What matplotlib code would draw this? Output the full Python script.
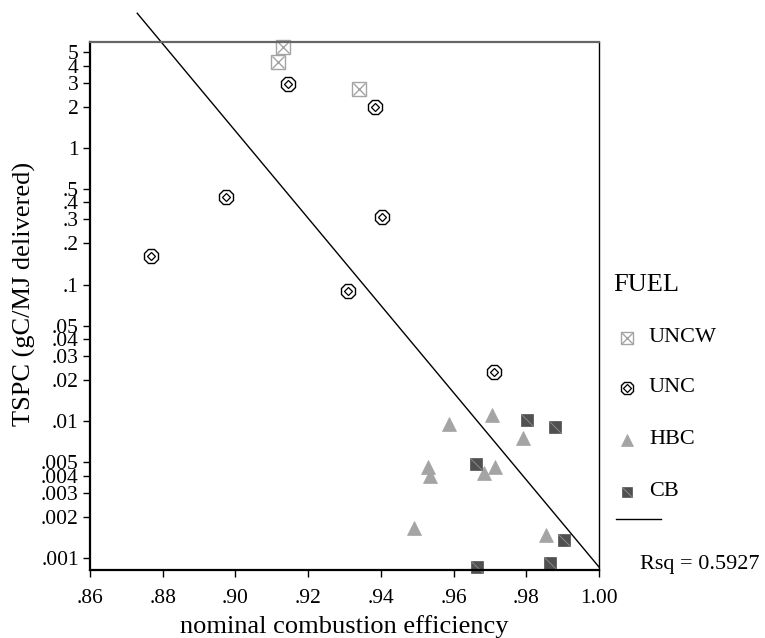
import numpy as np
import matplotlib.pyplot as plt
from matplotlib.path import Path

plt.rcParams['font.family'] = ['Liberation Serif', 'DejaVu Serif']

# nominal combustion efficiency (x) and TSPC (y) per fuel group
uncw_x = [0.9132, 0.9116, 0.9341]
uncw_y = [5.45, 4.28, 2.69]
unc_x = [0.9146, 0.9384, 0.8974, 0.9404, 0.8767, 0.9311, 0.9710]
unc_y = [2.94, 2.00, 0.438, 0.314, 0.163, 0.0904, 0.0230]
hbc_x = [0.9705, 0.9588, 0.9792, 0.9531, 0.9535, 0.9714, 0.9685, 0.9491, 0.9855]
hbc_y = [0.0111, 0.00957, 0.0076, 0.00466, 0.00401, 0.00466, 0.00417, 0.00165, 0.00148]
cb_x = [0.9802, 0.9879, 0.9662, 0.9904, 0.9865, 0.9665]
cb_y = [0.0102, 0.0091, 0.00488, 0.00136, 0.000916, 0.000865]

# fitted line: log10(TSPC) = fit_a + fit_b * NCE
fit_a = 28.834
fit_b = -31.9
fit_x = [0.873, 1.0]
rsq = 0.5927

xticks = [0.86, 0.88, 0.90, 0.92, 0.94, 0.96, 0.98, 1.00]
xlabels = ['.86', '.88', '.90', '.92', '.94', '.96', '.98', '1.00']
yticks = [5, 4, 3, 2, 1, 0.5, 0.4, 0.3, 0.2, 0.1, 0.05, 0.04, 0.03, 0.02, 0.01,
          0.005, 0.004, 0.003, 0.002, 0.001]
ylabels = ['5', '4', '3', '2', '1', '.5', '.4', '.3', '.2', '.1', '.05', '.04', '.03',
           '.02', '.01', '.005', '.004', '.003', '.002', '.001']

light = '#a4a4a4'
dark = '#505050'
slash = Path([(-0.5, 0.5), (0.5, -0.5)], [Path.MOVETO, Path.LINETO])


def draw_uncw(a, x, y, ms):
    a.plot(x, y, ls='none', marker='s', ms=ms, mfc='white', mec=light, mew=1.0, clip_on=False)
    a.plot(x, y, ls='none', marker='x', ms=ms * 0.95, mec=light, mew=1.0, clip_on=False)


def draw_unc(a, x, y, ms):
    a.plot(x, y, ls='none', marker='8', ms=ms, mfc='white', mec='black', mew=1.0, clip_on=False)
    a.plot(x, y, ls='none', marker='D', ms=ms * 0.4, mfc='white', mec='black', mew=0.9, clip_on=False)


def draw_hbc(a, x, y, ms):
    a.plot(x, y, ls='none', marker='^', ms=ms, mfc=light, mec=light, mew=0.5, clip_on=False)


def draw_cb(a, x, y, ms):
    a.plot(x, y, ls='none', marker='s', ms=ms, mfc=dark, mec=dark, mew=0.5, clip_on=False)
    a.plot(x, y, ls='none', marker=slash, ms=ms, mec='#8a8a8a', mew=0.7, clip_on=False)


fig = plt.figure(figsize=(7.65, 6.38), dpi=100)
ax = fig.add_axes([0.1176, 0.1066, 0.6654, 0.8276])
ax.set_yscale('log')
ax.set_xlim(0.86, 1.0)
ax.set_ylim(0.000817, 5.96)

fx = np.array(fit_x)
ax.plot(fx, 10 ** (fit_a + fit_b * fx), color='black', lw=1.0, clip_on=False, zorder=1)

draw_uncw(ax, uncw_x, uncw_y, 9.5)
draw_unc(ax, unc_x, unc_y, 10.5)
draw_hbc(ax, hbc_x, hbc_y, 10)
draw_cb(ax, cb_x, cb_y, 8.5)

ax.set_xticks(xticks)
ax.set_xticklabels(xlabels)
ax.set_yticks(yticks)
ax.set_yticklabels(ylabels)
ax.yaxis.set_minor_locator(plt.NullLocator())
ax.tick_params(direction='out', length=5, width=1, labelsize=15.5, pad=3)
ax.tick_params(axis='x', pad=9)

for s in ['left', 'bottom']:
    ax.spines[s].set_linewidth(1.6)
ax.spines['top'].set_color('#666666')
ax.spines['top'].set_linewidth(1.6)
ax.spines['right'].set_linewidth(1.0)

ax.set_xlabel('nominal combustion efficiency', fontsize=19, labelpad=5)
ax.set_ylabel('TSPC (gC/MJ delivered)', fontsize=19)
ax.yaxis.set_label_coords(-0.106, 0.523)

# legend drawn in pixel coordinates on an overlay
lax = fig.add_axes([0, 0, 1, 1])
lax.set_xlim(0, 765)
lax.set_ylim(638, 0)
lax.axis('off')
lax.text(613, 285, 'FUEL', fontsize=19, va='center', ha='left')
draw_uncw(lax, [627], [338], 8.5)
draw_unc(lax, [627], [388], 9.5)
draw_hbc(lax, [627], [440], 8.5)
draw_cb(lax, [627], [492], 7.5)
for lab, yy in zip(['UNCW', 'UNC', 'HBC', 'CB'], [338, 388, 440, 491]):
    lax.text(649, yy, lab, fontsize=16, va='center', ha='left')
lax.plot([616, 661], [519, 519], color='black', lw=1.0)
lax.text(640, 565, 'Rsq = %.4f' % rsq, fontsize=16, va='center', ha='left')

fig.savefig('out.png', dpi=100)
